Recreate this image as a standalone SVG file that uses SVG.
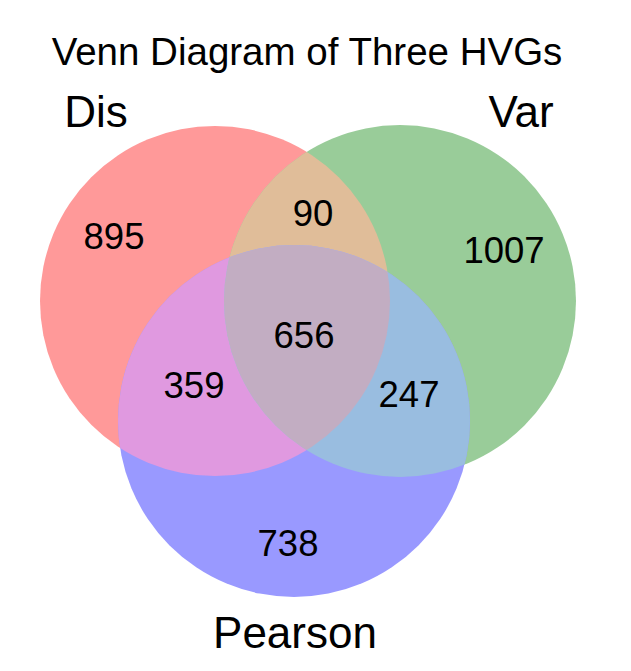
<svg xmlns="http://www.w3.org/2000/svg" width="631" height="671" viewBox="0 0 631 671">
<style>
text{font-family:"Liberation Sans",Arial,sans-serif;fill:#000;text-anchor:middle}
.title{font-size:38.5px}
.set{font-size:44px}
.num{font-size:36.5px}
</style>
<defs>
<clipPath id="cR"><circle cx="215" cy="301" r="175"/></clipPath>
<clipPath id="cG"><circle cx="400" cy="301" r="176"/></clipPath>
</defs>
<rect width="631" height="671" fill="#fff"/>
<text class="title" x="307" y="65">Venn Diagram of Three HVGs</text>
<g id="dis">
<circle cx="215" cy="301" r="175" fill="#FF9999"/>
</g>
<g id="var">
<circle cx="400" cy="301" r="176" fill="#99CC99"/>
</g>
<g id="pearson">
<circle cx="294" cy="421" r="176" fill="#9999FF"/>
</g>
<g id="overlaps">
<circle cx="400" cy="301" r="176" fill="#E0BD99" clip-path="url(#cR)"/>
<circle cx="294" cy="421" r="176" fill="#E099E0" clip-path="url(#cR)"/>
<circle cx="294" cy="421" r="176" fill="#99BDE0" clip-path="url(#cG)"/>
<g clip-path="url(#cG)"><circle cx="294" cy="421" r="176" fill="#C2ADC2" clip-path="url(#cR)"/></g>
</g>
<g id="labels">
<text class="set" x="96" y="127">Dis</text>
<text class="set" x="521" y="127">Var</text>
<text class="set" x="295" y="648">Pearson</text>
<text class="num" x="114" y="249">895</text>
<text class="num" x="313" y="226">90</text>
<text class="num" x="504" y="263">1007</text>
<text class="num" x="304" y="348">656</text>
<text class="num" x="194" y="398">359</text>
<text class="num" x="409" y="407">247</text>
<text class="num" x="288" y="556">738</text>
</g>
</svg>
